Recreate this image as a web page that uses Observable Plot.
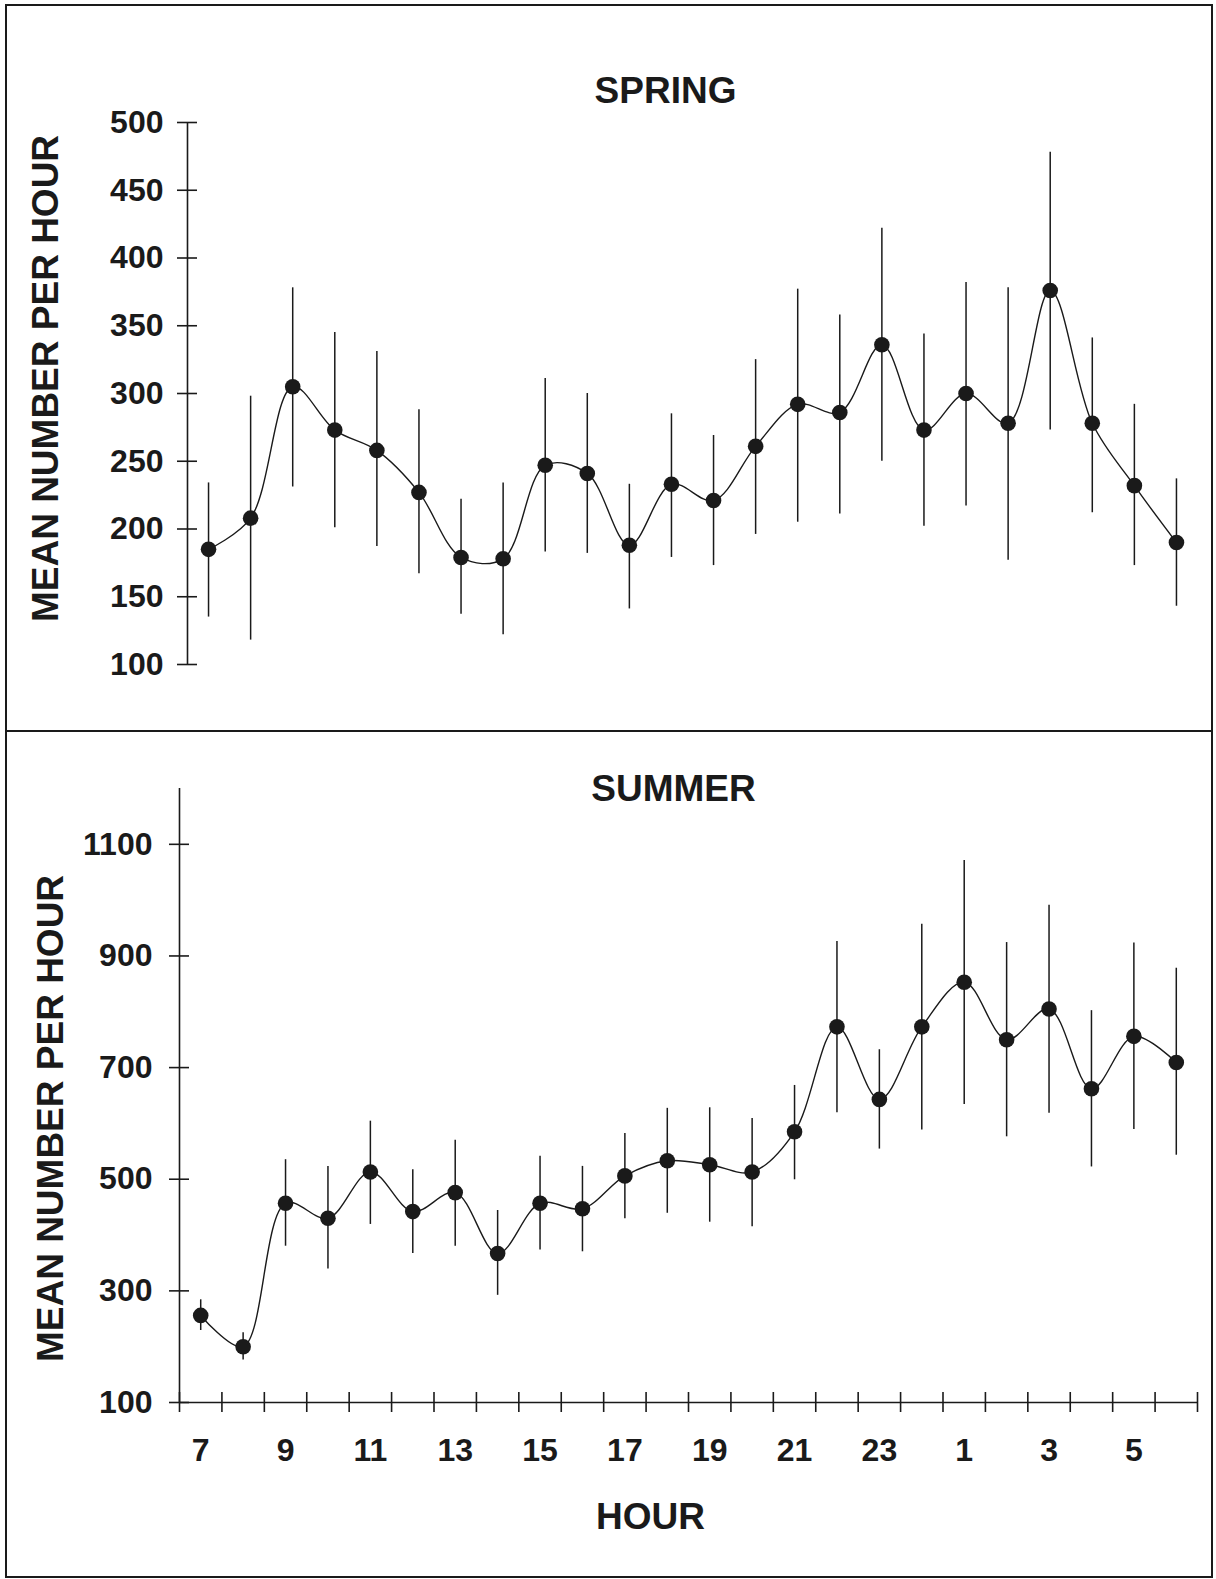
<!DOCTYPE html>
<html>
<head>
<meta charset="utf-8">
<script src="https://cdn.jsdelivr.net/npm/d3@7"></script>
<script src="https://cdn.jsdelivr.net/npm/@observablehq/plot@0.6"></script>
<style>
  body { margin: 0; background: #fff; }
  #wrap { position: relative; width: 1216px; height: 1579px; background: #fff; overflow: hidden; }
  #spring { position: absolute; left: 0; top: 0; }
  #summer { position: absolute; left: 0; top: 731px; }
  #frame { position: absolute; left: 5px; top: 4px; width: 1208px; height: 1574px; border: 2px solid #1a1a1a; box-sizing: border-box; }
  #divider { position: absolute; left: 5px; top: 730px; width: 1208px; height: 2px; background: #1a1a1a; }
</style>
</head>
<body>
<div id="wrap">
  <div id="spring"></div>
  <div id="summer"></div>
  <div id="frame"></div>
  <div id="divider"></div>
</div>
<script>
// Hour of day (7 a.m. through 6 a.m. next day)
const hours = [7, 8, 9, 10, 11, 12, 13, 14, 15, 16, 17, 18, 19, 20, 21, 22, 23, 24, 1, 2, 3, 4, 5, 6];

// SPRING: mean number per hour and error-bar ends
const springMean = [185, 208, 305, 273, 258, 227, 179, 178, 247, 241, 188, 233, 221, 261, 292, 286, 336, 273, 300, 278, 376, 278, 232, 190];
const springLow  = [135, 118, 231, 201, 187, 167, 137, 122, 183, 182, 141, 179, 173, 196, 205, 211, 250, 202, 217, 177, 273, 212, 173, 143];
const springHigh = [234, 298, 378, 345, 331, 288, 222, 234, 311, 300, 233, 285, 269, 325, 377, 358, 422, 344, 382, 378, 478, 341, 292, 237];

// SUMMER: mean number per hour and error-bar ends
const summerMean = [256, 200, 457, 430, 513, 442, 476, 367, 457, 447, 506, 533, 526, 513, 585, 773, 643, 773, 853, 750, 805, 662, 756, 709];
const summerLow  = [229, 176, 380, 339, 419, 367, 380, 292, 373, 370, 429, 439, 423, 415, 499, 619, 554, 588, 634, 576, 618, 522, 589, 543];
const summerHigh = [284, 225, 535, 523, 604, 517, 570, 444, 541, 523, 582, 627, 628, 609, 668, 926, 732, 957, 1071, 924, 991, 802, 923, 878];

// Axis ticks and labels
const springYTicks = [100, 150, 200, 250, 300, 350, 400, 450, 500];
const summerYTicks = [100, 300, 500, 700, 900, 1100];
const summerYMax = 1200;
const xTickLabels = ["7", "9", "11", "13", "15", "17", "19", "21", "23", "1", "3", "5"];

const titles = { spring: "SPRING", summer: "SUMMER", y: "MEAN NUMBER PER HOUR", x: "HOUR" };

const FONT = '"Liberation Sans", Arial, Helvetica, sans-serif';
const INK = "#1a1a1a";
const plain = d => String(d);

const springData = hours.map((h, i) => ({ i, hour: h, mean: springMean[i], low: springLow[i], high: springHigh[i] }));
const summerData = hours.map((h, i) => ({ i, hour: h, mean: summerMean[i], low: summerLow[i], high: summerHigh[i] }));
const xDomain = [-0.5, hours.length - 0.5];
const hourBounds = hours.map((_, i) => i - 0.5).concat([hours.length - 0.5]);
const xLabelIdx = xTickLabels.map(l => hours.indexOf(+l));

function seriesMarks(data) {
  return [
    Plot.ruleX(data, { x: "i", y1: "low", y2: "high", stroke: INK, strokeWidth: 1.5 }),
    Plot.line(data, { x: "i", y: "mean", curve: "catmull-rom", stroke: INK, strokeWidth: 1.4 }),
    Plot.dot(data, { x: "i", y: "mean", r: 7.8, fill: INK, stroke: "none" })
  ];
}

const style = { fontFamily: FONT, fontWeight: "bold", color: INK, background: "transparent", overflow: "visible" };

// ---------- SPRING ----------
const spring = Plot.plot({
  width: 1216, height: 731,
  marginTop: 122, marginBottom: 67, marginLeft: 187, marginRight: 19,
  style,
  x: { domain: xDomain, axis: null },
  y: { domain: d3.extent(springYTicks) },
  marks: [
    Plot.ruleX([xDomain[0]], { y1: springYTicks[0], y2: springYTicks[springYTicks.length - 1], stroke: INK, strokeWidth: 1.6 }),
    Plot.axisY({ ticks: springYTicks, tickSize: 20, dx: 10, tickFormat: () => "", label: null, stroke: INK, strokeWidth: 1.6 }),
    Plot.axisY({ ticks: springYTicks, tickSize: 0, tickPadding: 24, tickFormat: plain, label: null, fontSize: 32, fontWeight: "bold", fill: INK }),
    ...seriesMarks(springData),
    Plot.text([titles.spring], { frameAnchor: "top", dx: -27, dy: -31, lineAnchor: "middle", fontSize: 37, fontWeight: "bold", fill: INK }),
    Plot.text([titles.y], { frameAnchor: "left", rotate: -90, dx: -141, dy: -15, lineAnchor: "middle", textAnchor: "middle", fontSize: 37, fontWeight: "bold", fill: INK })
  ]
});
document.getElementById("spring").append(spring);

// ---------- SUMMER ----------
const summer = Plot.plot({
  width: 1216, height: 848,
  marginTop: 57, marginBottom: 177, marginLeft: 179, marginRight: 19,
  style,
  x: { domain: xDomain },
  y: { domain: [summerYTicks[0], summerYMax] },
  marks: [
    Plot.ruleX([xDomain[0]], { y1: summerYTicks[0], y2: summerYMax, stroke: INK, strokeWidth: 1.6 }),
    Plot.ruleY([summerYTicks[0]], { x1: xDomain[0], x2: xDomain[1], stroke: INK, strokeWidth: 1.6 }),
    Plot.axisY({ ticks: summerYTicks, tickSize: 20, dx: 10, tickFormat: () => "", label: null, stroke: INK, strokeWidth: 1.6 }),
    Plot.axisY({ ticks: summerYTicks, tickSize: 0, tickPadding: 27, tickFormat: plain, label: null, fontSize: 32, fontWeight: "bold", fill: INK }),
    Plot.axisX({ ticks: hourBounds, tickSize: 20, dy: -10, tickFormat: () => "", label: null, stroke: INK, strokeWidth: 1.6 }),
    Plot.axisX({ ticks: xLabelIdx, tickSize: 0, tickPadding: 36, tickFormat: i => hours[i], label: null, fontSize: 32, fontWeight: "bold", fill: INK }),
    ...seriesMarks(summerData),
    Plot.text([titles.summer], { frameAnchor: "top", dx: -15, dy: 1, lineAnchor: "middle", fontSize: 37, fontWeight: "bold", fill: INK }),
    Plot.text([titles.y], { frameAnchor: "left", rotate: -90, dx: -128, dy: 23, lineAnchor: "middle", textAnchor: "middle", fontSize: 37, fontWeight: "bold", fill: INK }),
    Plot.text([titles.x], { frameAnchor: "bottom", dx: -38, dy: 115, lineAnchor: "middle", fontSize: 37, fontWeight: "bold", fill: INK })
  ]
});
document.getElementById("summer").append(summer);
</script>
</body>
</html>
